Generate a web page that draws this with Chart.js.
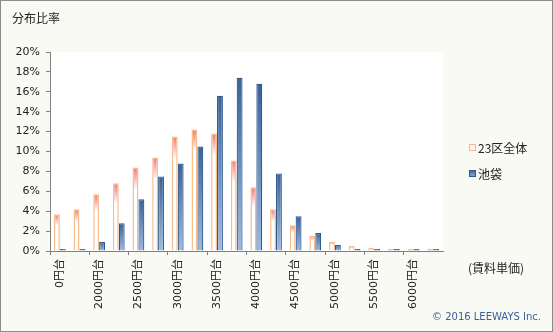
<!DOCTYPE html>
<html lang="ja">
<head>
<meta charset="UTF-8">
<title>分布比率</title>
<style>
  body { margin: 0; background: #fff; }
  #chart { display: block; }
</style>
</head>
<body>
<canvas id="chart" width="553" height="332"></canvas>
<script src="https://cdn.jsdelivr.net/npm/chart.js"></script>
<script>
// 賃料単価の帯 (250円刻み、ラベルは1つおきに表示)
const priceBands = ['0円台', '1750円台', '2000円台', '2250円台', '2500円台', '2750円台',
  '3000円台', '3250円台', '3500円台', '3750円台', '4000円台', '4250円台', '4500円台',
  '4750円台', '5000円台', '5250円台', '5500円台', '5750円台', '6000円台', '6250円台'];

// 分布比率 (%)
const ward23 = [3.7, 4.2, 5.7, 6.8, 8.4, 9.4, 11.5, 12.2, 11.8, 9.1,
  6.4, 4.2, 2.6, 1.5, 0.9, 0.5, 0.3, 0.1, 0.1, 0.1];
const ikebukuro = [0.1, 0.2, 0.9, 2.8, 5.2, 7.5, 8.8, 10.5, 15.6, 17.4,
  16.8, 7.8, 3.5, 1.8, 0.6, 0.1, 0.1, 0.1, 0.1, 0.1];

const yTicks = [0, 2, 4, 6, 8, 10, 12, 14, 16, 18, 20];

const FONT = "'DejaVu Sans', 'Noto Sans CJK JP', sans-serif";
const AXIS = '#808080';

// 23区全体: 上端が赤く、すぐに白へ抜けるグラデーション
function wardFill(ctx) {
  const chart = ctx.chart;
  if (ctx.type !== 'data' || !chart.chartArea) return '#ffffff';
  const y = chart.scales.y;
  const top = y.getPixelForValue(ctx.raw);
  const base = y.getPixelForValue(0);
  const fade = Math.max(2, Math.min(22, (base - top) * 0.3));
  const g = chart.ctx.createLinearGradient(0, top, 0, top + fade);
  g.addColorStop(0, '#f87474');
  g.addColorStop(0.4, '#fba9a9');
  g.addColorStop(1, '#ffffff');
  return g;
}

// 池袋: 上が濃紺、下が淡い青
function ikeFill(ctx) {
  const chart = ctx.chart;
  if (ctx.type !== 'data' || !chart.chartArea) return '#5b80b4';
  const y = chart.scales.y;
  const top = y.getPixelForValue(ctx.raw);
  const base = y.getPixelForValue(0);
  const g = chart.ctx.createLinearGradient(0, top, 0, Math.max(base, top + 1));
  g.addColorStop(0, '#3a6298');
  g.addColorStop(1, '#9dbbe2');
  return g;
}

const frame = {
  id: 'frame',
  beforeDraw(chart) {
    const c = chart.ctx;
    const a = chart.chartArea;
    c.save();
    c.fillStyle = '#f8faf3';
    c.fillRect(0, 0, chart.width, chart.height);
    c.fillStyle = '#ffffff';
    c.fillRect(a.left, a.top, a.right - a.left, a.bottom - a.top);
    c.restore();
  },
  afterDraw(chart) {
    const c = chart.ctx;
    c.save();
    c.strokeStyle = '#8c8c8c';
    c.lineWidth = 1;
    c.strokeRect(0.5, 0.5, chart.width - 1, chart.height - 1);

    c.textBaseline = 'middle';
    c.fillStyle = '#222';
    c.font = "12px 'Noto Sans CJK JP', sans-serif";
    c.textAlign = 'left';
    c.fillText('分布比率', 12, 18);
    c.fillText('(賃料単価)', 468, 268);

    // 凡例
    const ds = chart.data.datasets;
    const rows = [148, 174];
    ds.forEach((d, i) => {
      const y = rows[i];
      c.lineWidth = 1;
      if (i === 0) {
        c.fillStyle = '#fff3ee';
        c.strokeStyle = '#f6b98a';
      } else {
        const g = c.createLinearGradient(0, y - 4, 0, y + 4);
        g.addColorStop(0, '#3a6298');
        g.addColorStop(1, '#9dbbe2');
        c.fillStyle = g;
        c.strokeStyle = '#34588a';
      }
      c.fillRect(469.5, y - 3.5, 6, 6);
      c.strokeRect(469.5, y - 3.5, 6, 6);
      c.fillStyle = '#222';
      c.font = "12px 'Noto Sans CJK JP', sans-serif";
      c.fillText(d.label, 478, y);
    });

    c.fillStyle = '#3b5f9a';
    c.font = "10px 'DejaVu Sans', sans-serif";
    c.textAlign = 'right';
    c.fillText('© 2016 LEEWAYS Inc.', 541, 317);
    c.restore();
  }
};

new Chart(document.getElementById('chart'), {
  type: 'bar',
  data: {
    labels: priceBands,
    datasets: [{
      label: '23区全体',
      data: ward23,
      backgroundColor: wardFill,
      borderColor: '#f7bd8c',
      borderWidth: 1.5,
      minBarLength: 2,
      categoryPercentage: 0.6,
      barPercentage: 1
    }, {
      label: '池袋',
      data: ikebukuro,
      backgroundColor: ikeFill,
      borderColor: '#30598e',
      borderWidth: 1.2,
      minBarLength: 2,
      categoryPercentage: 0.6,
      barPercentage: 1
    }]
  },
  options: {
    responsive: false,
    animation: false,
    layout: { padding: { top: 52, right: 110, left: 0, bottom: 0 } },
    plugins: {
      legend: { display: false },
      tooltip: { enabled: false }
    },
    scales: {
      x: {
        afterFit(scale) { scale.height = 81; },
        grid: {
          offset: true,
          drawOnChartArea: false,
          tickLength: 4,
          color: (ctx) => ctx.index % 2 === 0 ? AXIS : 'rgba(0,0,0,0)'
        },
        border: { color: AXIS, width: 1 },
        ticks: {
          autoSkip: false,
          minRotation: 90,
          maxRotation: 90,
          padding: 4,
          color: '#222',
          font: { family: FONT, size: 11 },
          callback: (v, i) => i % 2 === 0 ? priceBands[i] : ''
        }
      },
      y: {
        min: yTicks[0],
        max: yTicks[yTicks.length - 1],
        afterFit(scale) { scale.width = 50; },
        afterBuildTicks(scale) { scale.ticks = yTicks.map(v => ({ value: v })); },
        grid: { drawOnChartArea: false, tickLength: 4, color: AXIS },
        border: { color: AXIS, width: 1 },
        ticks: {
          padding: 6,
          color: '#222',
          font: { family: FONT, size: 11 },
          callback: (v) => v + '%'
        }
      }
    }
  },
  plugins: [frame]
});
</script>
</body>
</html>
